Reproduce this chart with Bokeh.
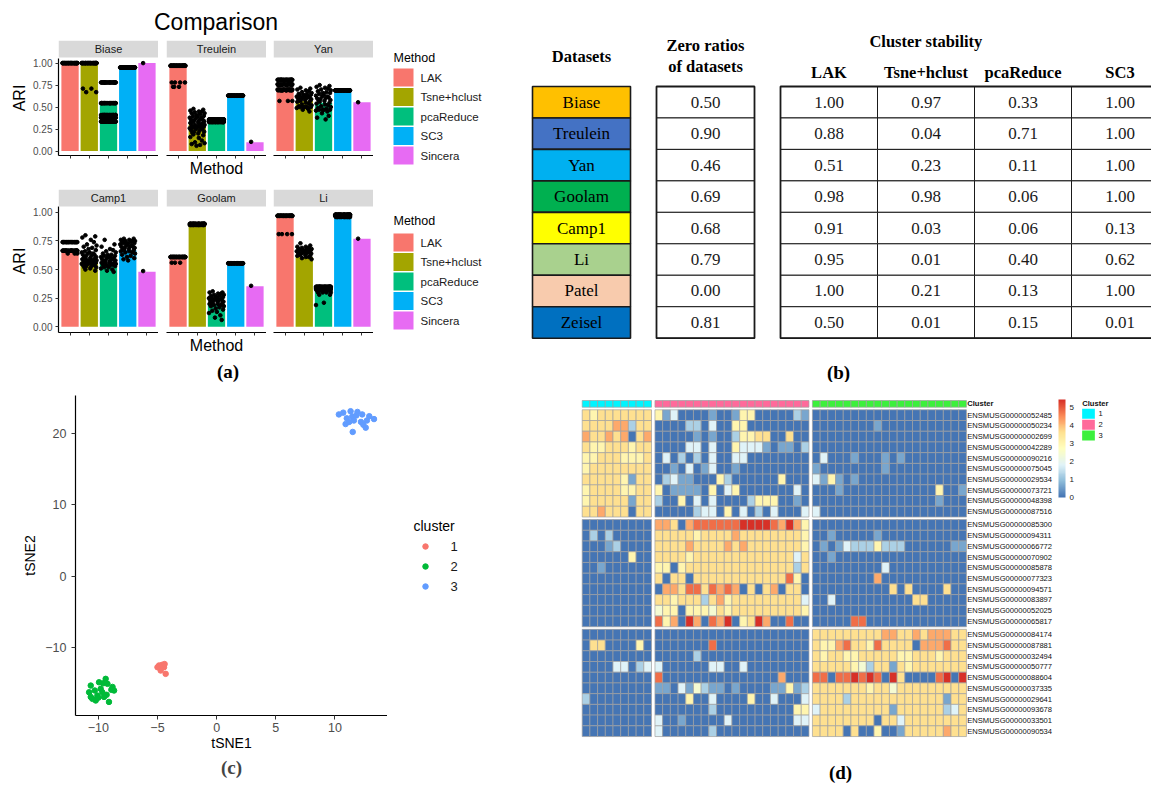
import numpy as np
from bokeh.plotting import figure
from bokeh.models import (ColumnDataSource, Range1d, FixedTicker, NumeralTickFormatter,
                          BoxAnnotation, Label, ColorBar, LinearColorMapper, Div)
from bokeh.embed import file_html
from bokeh.resources import INLINE
from bokeh.core.properties import value

SANS = "Liberation Sans"
SERIF = "Liberation Serif"

# ======================= DATA =======================
# ---- panel (a): ARI comparison
METHODS = ["LAK", "Tsne+hclust", "pcaReduce", "SC3", "Sincera"]
METHOD_COLORS = ["#F8766D", "#A3A500", "#00BF7D", "#00B0F6", "#E76BF3"]
FACETS_TOP = ["Biase", "Treulein", "Yan"]
FACETS_BOTTOM = ["Camp1", "Goolam", "Li"]

ARI_BIASE = [1.00, 1.00, 0.53, 0.95, 1.00]
ARI_TREULEIN = [0.96, 0.30, 0.31, 0.63, 0.10]
ARI_YAN = [0.72, 0.57, 0.55, 0.69, 0.555]
ARI_CAMP1 = [0.66, 0.57, 0.55, 0.67, 0.48]
ARI_GOOLAM = [0.60, 0.89, 0.20, 0.55, 0.355]
ARI_LI = [0.96, 0.61, 0.33, 0.97, 0.77]

TRE_TSNE_RUNS = [0.48, 0.47, 0.46, 0.45, 0.45, 0.44, 0.43, 0.43, 0.42, 0.41, 0.40, 0.40, 0.39,
                 0.38, 0.38, 0.37, 0.36, 0.36, 0.35, 0.35, 0.34, 0.34, 0.33, 0.33, 0.32, 0.32,
                 0.31, 0.31, 0.30, 0.30, 0.29, 0.29, 0.28, 0.28, 0.27, 0.27, 0.26, 0.26, 0.25,
                 0.25, 0.24, 0.23, 0.22, 0.22, 0.21, 0.20, 0.19, 0.18, 0.16, 0.15, 0.12, 0.10,
                 0.09, 0.08, 0.07, 0.06]
YAN_TSNE_RUNS = [0.72, 0.71, 0.70, 0.69, 0.68, 0.67, 0.66, 0.65, 0.65, 0.64, 0.64, 0.63, 0.63,
                 0.62, 0.62, 0.61, 0.61, 0.60, 0.60, 0.59, 0.59, 0.58, 0.58, 0.57, 0.57, 0.56,
                 0.55, 0.54, 0.53, 0.52, 0.51, 0.50, 0.50, 0.50, 0.50, 0.50, 0.49, 0.48, 0.47, 0.45]
YAN_PCA_RUNS = [0.75, 0.74, 0.73, 0.72, 0.71, 0.70, 0.69, 0.68, 0.67, 0.66, 0.66, 0.65, 0.64,
                0.63, 0.62, 0.62, 0.61, 0.60, 0.60, 0.59, 0.58, 0.58, 0.57, 0.56, 0.55, 0.54,
                0.53, 0.52, 0.51, 0.50, 0.49, 0.48, 0.47, 0.47, 0.47, 0.47, 0.46, 0.45, 0.43,
                0.40, 0.38, 0.36]
CAMP_TSNE_RUNS = [0.80, 0.79, 0.78, 0.76, 0.74, 0.72, 0.71, 0.70, 0.69, 0.68, 0.67, 0.66, 0.65,
                  0.65, 0.64, 0.64, 0.63, 0.63, 0.62, 0.62, 0.61, 0.61, 0.60, 0.60, 0.60, 0.59,
                  0.59, 0.58, 0.58, 0.58, 0.57, 0.57, 0.57, 0.56, 0.56, 0.56, 0.55, 0.55, 0.55,
                  0.54, 0.54, 0.53, 0.53, 0.52, 0.52, 0.51, 0.50, 0.49]
CAMP_PCA_RUNS = [0.76, 0.72, 0.70, 0.68, 0.67, 0.66, 0.65, 0.64, 0.63, 0.63, 0.62, 0.62, 0.61,
                 0.61, 0.60, 0.60, 0.59, 0.59, 0.58, 0.58, 0.58, 0.57, 0.57, 0.57, 0.56, 0.56,
                 0.56, 0.55, 0.55, 0.55, 0.54, 0.54, 0.53, 0.53, 0.52, 0.52, 0.51, 0.50, 0.49, 0.48]
CAMP_SC3_RUNS = [0.77, 0.77, 0.76, 0.76, 0.75, 0.75, 0.75, 0.74, 0.74, 0.73, 0.73, 0.73, 0.72,
                 0.72, 0.71, 0.71, 0.70, 0.70, 0.70, 0.69, 0.69, 0.68, 0.68, 0.67, 0.67, 0.66,
                 0.66, 0.65, 0.65, 0.64, 0.63, 0.62, 0.61, 0.60, 0.59, 0.58]
GOO_PCA_RUNS = [0.31, 0.30, 0.30, 0.29, 0.29, 0.28, 0.28, 0.27, 0.27, 0.26, 0.26, 0.25, 0.25,
                0.25, 0.24, 0.24, 0.24, 0.23, 0.23, 0.23, 0.22, 0.22, 0.22, 0.21, 0.21, 0.20,
                0.20, 0.19, 0.19, 0.18, 0.18, 0.17, 0.16, 0.15, 0.14, 0.13, 0.12, 0.10, 0.08, 0.06]
LI_TSNE_RUNS = [0.73, 0.71, 0.70, 0.70, 0.69, 0.69, 0.68, 0.68, 0.68, 0.67, 0.67, 0.67, 0.66,
                0.66, 0.66, 0.65, 0.65, 0.65, 0.64, 0.64, 0.64, 0.63, 0.63, 0.63, 0.62, 0.62,
                0.61, 0.61, 0.60, 0.59]


def single(runs):
    return [(v, 1) for v in runs]


# (ARI value, number of runs) per method
PTS_BIASE = [[(1.00, 40)],
             [(1.00, 40), (0.71, 2), (0.67, 2)],
             [(0.78, 25), (0.545, 25), (0.41, 20), (0.38, 20), (0.335, 25)],
             [(0.95, 40)],
             [(1.00, 1)]]
PTS_TREULEIN = [[(0.97, 40), (0.78, 4), (0.73, 3)],
                single(TRE_TSNE_RUNS),
                [(0.36, 30), (0.34, 25), (0.33, 25)],
                [(0.63, 40)],
                [(0.105, 1)]]
PTS_YAN = [[(0.81, 25), (0.76, 15), (0.75, 10), (0.70, 15), (0.69, 10), (0.57, 3)],
           single(YAN_TSNE_RUNS),
           single(YAN_PCA_RUNS),
           [(0.69, 40)],
           [(0.555, 1)]]
PTS_CAMP1 = [[(0.74, 20), (0.665, 30), (0.64, 3)],
             single(CAMP_TSNE_RUNS),
             single(CAMP_PCA_RUNS),
             single(CAMP_SC3_RUNS),
             [(0.487, 1)]]
PTS_GOOLAM = [[(0.61, 40), (0.56, 3)],
              [(0.90, 30), (0.89, 20)],
              single(GOO_PCA_RUNS),
              [(0.555, 40)],
              [(0.358, 1)]]
PTS_LI = [[(0.97, 40), (0.81, 4)],
          single(LI_TSNE_RUNS),
          [(0.35, 25), (0.34, 25), (0.33, 15), (0.32, 10), (0.30, 4), (0.28, 2), (0.21, 1), (0.19, 1)],
          [(0.98, 30), (0.97, 30), (0.96, 20)],
          [(0.77, 1)]]

# ---- panel (b): table
TABLE_DATASETS = ["Biase", "Treulein", "Yan", "Goolam", "Camp1", "Li", "Patel", "Zeisel"]
TABLE_COLORS = ["#FFC000", "#4472C4", "#00B0F0", "#00B050", "#FFFF00", "#A9D18E", "#F8CBAD", "#0070C0"]
ZERO_RATIOS = [0.50, 0.90, 0.46, 0.69, 0.68, 0.79, 0.00, 0.81]
STAB_METHODS = ["LAK", "Tsne+hclust", "pcaReduce", "SC3"]
STAB_LAK = [1.00, 0.88, 0.51, 0.98, 0.91, 0.95, 1.00, 0.50]
STAB_TSNE = [0.97, 0.04, 0.23, 0.98, 0.03, 0.01, 0.21, 0.01]
STAB_PCA = [0.33, 0.71, 0.11, 0.06, 0.06, 0.40, 0.13, 0.15]
STAB_SC3 = [1.00, 1.00, 1.00, 1.00, 0.13, 0.62, 1.00, 0.01]

# ---- panel (c): tSNE
C1_X = [-4.87, -4.45, -4.31, -4.73, -5.00, -4.60, -4.40]
C1_Y = [-12.50, -12.74, -13.67, -13.20, -12.74, -12.40, -12.30]
C2_X = [-10.64, -10.78, -10.50, -10.08, -9.80, -9.38, -9.23, -8.80, -8.67, -9.10, -9.52, -9.94,
        -10.22, -9.66, -10.64, -9.30, -8.90, -10.30, -9.60, -10.00]
C2_Y = [-15.31, -16.25, -17.17, -16.70, -15.77, -14.37, -15.07, -15.50, -16.00, -17.60, -16.90,
        -14.85, -17.40, -16.25, -16.90, -16.60, -15.90, -16.00, -15.00, -17.00]
C3_X = [10.33, 11.32, 11.46, 12.30, 10.90, 11.60, 12.70, 13.30, 12.60, 11.50, 11.00, 11.80,
        12.20, 11.20, 12.90, 10.70, 11.90, 12.40]
C3_Y = [22.65, 23.10, 22.37, 22.65, 21.30, 21.80, 21.80, 22.00, 20.80, 20.20, 22.10, 22.50,
        21.60, 21.60, 22.40, 22.90, 23.00, 21.20]
TSNE_CLUSTERS = ["1", "2", "3"]
TSNE_CLUSTER_COLORS = ["#F8766D", "#00BA38", "#619CFF"]

# ---- panel (d): heatmap (digit d -> expression d*0.6); columns: cluster1 | cluster2 | cluster3
CLUSTER_SIZES = [9, 20, 20]
CLUSTER_COLORS = ["#00F5FF", "#FF6A9B", "#3CF03C"]
GENES = ["ENSMUSG00000052485", "ENSMUSG00000050234", "ENSMUSG00000002699", "ENSMUSG00000042289",
         "ENSMUSG00000090216", "ENSMUSG00000075045", "ENSMUSG00000029534", "ENSMUSG00000073721",
         "ENSMUSG00000048398", "ENSMUSG00000087516",
         "ENSMUSG00000085300", "ENSMUSG00000094311", "ENSMUSG00000066772", "ENSMUSG00000070902",
         "ENSMUSG00000085878", "ENSMUSG00000077323", "ENSMUSG00000094571", "ENSMUSG00000083897",
         "ENSMUSG00000052025", "ENSMUSG00000065817",
         "ENSMUSG00000084174", "ENSMUSG00000087881", "ENSMUSG00000032494", "ENSMUSG00000050777",
         "ENSMUSG00000088604", "ENSMUSG00000037335", "ENSMUSG00000029641", "ENSMUSG00000093678",
         "ENSMUSG00000033501", "ENSMUSG00000090534"]
HM_ROWS = [
    "656666666 51300001001550000021 00000000000000000000",
    "666677266 00002203005500000000 00000000100000000000",
    "766767067 00000101002556600600 00000000000000000000",
    "655666566 00003303005333101102 00000000000000000000",
    "556665556 03020203003300000000 03000100010100000000",
    "566666666 00103013001000000000 10000000010000000000",
    "666665166 02311000520000005000 31510100000000000000",
    "566665566 50111105035000000030 00010000000000005001",
    "566666166 20050303000025550010 00000000000000001000",
    "667666066 00000233050302030003 30000000000000000000",
    "000000000 77607888888999987975 00000000000000000000",
    "020200000 66666566667666666665 00100000100000000000",
    "000120000 66667666676766666665 01013222522200000011",
    "000000500 66665666666666666636 00100000000000000000",
    "001000000 55056666666666666626 00000000030000000000",
    "000000000 60660666666666666850 00000000700000000000",
    "000000000 07768868787060670660 00000000006060000600",
    "000000000 66566626756666666663 00300000000006600000",
    "000000000 45505554656666666665 00000000000000000000",
    "000000000 85709708790569700800 00000880000000000000",
    "000000000 00000000000000000000 66666666677667677766",
    "066000050 00000008000000000000 65578665866660777866",
    "000000000 00000200000000000000 65665566666556665666",
    "000033023 30000003300300000000 66666542661656666666",
    "000000000 80000000000000007000 88088989809600008909",
    "000000000 11031421101000011512 66666665664666666666",
    "200000000 00005003000050030003 66662666666666666166",
    "000000000 00000002000000000055 36666666661666666236",
    "000000000 30010000030000000033 66666666066366666666",
    "000000000 30000002000000000000 66660600500166666766",
]
HM_UNIT = 0.6
HM_MAX = 5.44
HM_ANCHORS = ["#4575B4", "#91BFDB", "#E0F3F8", "#FFFFBF", "#FEE090", "#FC8D59", "#D73027"]

# ======================= HELPERS =======================
JITTER = [-0.20, 0.31, -0.36, 0.08, 0.24, -0.12, 0.38, -0.29, 0.15, -0.04, 0.34, -0.22,
          0.02, -0.39, 0.20, -0.08, 0.27, -0.33, 0.11, -0.16, 0.36, -0.26, 0.05]


def pts_xy(groups):
    xs, ys = [], []
    for m, grp in enumerate(groups):
        k = 0
        for v, n in grp:
            for _ in range(n):
                xs.append(m + 1 + JITTER[k % len(JITTER)])
                ys.append(v)
                k += 1
    return xs, ys


def base_fig(**kw):
    kw.setdefault("title", None)
    p = figure(output_backend="svg", toolbar_location=None, **kw)
    p.outline_line_color = None
    p.grid.visible = False
    p.background_fill_color = "white"
    p.border_fill_color = "white"
    return p


def style_axis(ax, label_size="10px"):
    ax.axis_line_color = "black"
    ax.axis_line_width = 1.2
    ax.major_tick_line_color = "#333333"
    ax.major_tick_out = 3
    ax.major_tick_in = 0
    ax.minor_tick_out = 0
    ax.minor_tick_in = 0
    ax.major_label_text_color = "#4D4D4D"
    ax.major_label_text_font = SANS
    ax.major_label_text_font_size = label_size
    ax.axis_label_text_font = SANS
    ax.axis_label_text_font_style = "normal"
    ax.axis_label_text_color = "black"


def blank_fig(w, h):
    """A figure without axes whose units are the pixels of its own canvas."""
    return base_fig(width=w, height=h, x_range=Range1d(0, w), y_range=Range1d(h, 0),
                    x_axis_location=None, y_axis_location=None, min_border=0)


PLACED = []   # (model, left px, top px)

# ======================= PANEL (a) =======================
FACET_W = 100
STRIP_H = 17
FACET_LEFT = [8, 166, 273]


def facet(name, bars, pts, cfg, pos, xlabel=None):
    first = pos == 0
    left = 50 if first else 0
    ppu = cfg["ppu"]
    y_top = -0.05 + cfg["frame"] / ppu
    strip_bottom = y_top - STRIP_H / ppu
    p = base_fig(width=left + FACET_W, height=cfg["top"] + cfg["frame"] + cfg["bottom"],
                 x_range=Range1d(0.4, 5.6), y_range=Range1d(-0.05, y_top),
                 y_axis_location="left" if first else None,
                 min_border_left=left, min_border_right=0,
                 min_border_top=cfg["top"], min_border_bottom=cfg["bottom"])
    p.add_layout(BoxAnnotation(bottom=strip_bottom, fill_color="#D9D9D9", fill_alpha=1.0,
                               line_color=None))
    p.add_layout(Label(x=3, y=(strip_bottom + y_top) / 2, text=name, text_align="center",
                       text_baseline="middle", text_font=SANS, text_font_size="11px",
                       text_color="#1A1A1A"))
    src = ColumnDataSource(dict(x=[1, 2, 3, 4, 5], top=bars, color=METHOD_COLORS))
    p.vbar(x="x", top="top", bottom=0, width=0.9, fill_color="color", line_color=None, source=src)
    xs, ys = pts_xy(pts)
    p.scatter(x=xs, y=ys, size=3.6, color="black", marker="circle")
    style_axis(p.xaxis[0])
    p.xaxis.ticker = FixedTicker(ticks=[1, 2, 3, 4, 5])
    p.xaxis.major_label_text_font_size = "1px"
    p.xaxis.major_label_text_color = None
    p.xaxis.major_label_standoff = 0
    if xlabel:
        p.xaxis.axis_label = xlabel
        p.xaxis.axis_label_text_font_size = "16px"
        p.xaxis.axis_label_standoff = 1
    if first:
        style_axis(p.yaxis[0])
        p.yaxis.ticker = FixedTicker(ticks=[0, 0.25, 0.5, 0.75, 1.0])
        p.yaxis.formatter = NumeralTickFormatter(format="0.00")
        p.yaxis.bounds = (-0.05, 1.05)
        p.yaxis.major_label_standoff = 3
        p.yaxis.axis_label = "ARI"
        p.yaxis.axis_label_text_font_size = "16px"
        p.yaxis.axis_label_standoff = 2
    return p


def method_legend(h, title_y, key_y):
    lf = blank_fig(147, h)
    ys = [key_y + i * 19.5 for i in range(len(METHODS))]
    lf.rect(x=[30] * len(METHODS), y=ys, width=20, height=18, fill_color=METHOD_COLORS,
            line_color=None)
    lf.text(x=[47] * len(METHODS), y=ys, text=METHODS, text_font=value(SANS),
            text_font_size="11.5px", text_baseline="middle", text_color="#1A1A1A")
    lf.text(x=[20], y=[title_y], text=["Method"], text_font=value(SANS),
            text_font_size="12.5px", text_baseline="middle", text_color="black")
    return lf


ROWS_A = [
    dict(names=FACETS_TOP, bars=[ARI_BIASE, ARI_TREULEIN, ARI_YAN],
         pts=[PTS_BIASE, PTS_TREULEIN, PTS_YAN], y0=8, top=32, frame=115, bottom=26, ppu=88.0,
         title_y=49, key_y=69),
    dict(names=FACETS_BOTTOM, bars=[ARI_CAMP1, ARI_GOOLAM, ARI_LI],
         pts=[PTS_CAMP1, PTS_GOOLAM, PTS_LI], y0=181, top=8, frame=143, bottom=30, ppu=114.4,
         title_y=39, key_y=61),
]

for cfg in ROWS_A:
    for pos in range(3):
        f = facet(cfg["names"][pos], cfg["bars"][pos], cfg["pts"][pos], cfg, pos,
                  xlabel="Method" if pos == 1 else None)
        PLACED.append((f, FACET_LEFT[pos], cfg["y0"]))
    h = cfg["top"] + cfg["frame"] + cfg["bottom"]
    PLACED.append((method_legend(h, cfg["title_y"], cfg["key_y"]), 373, cfg["y0"]))

title_a = Div(text="Comparison", width=140, height=28, margin=(0, 0, 0, 0),
              styles={"font-family": SANS, "font-size": "23px", "text-align": "center",
                      "line-height": "28px", "color": "black"})
PLACED.append((title_a, 146, 8))
lab_style = {"font-family": SERIF, "font-size": "19px", "font-weight": "bold",
             "text-align": "center", "line-height": "20px", "color": "black"}
div_a = Div(text="(a)", width=100, height=20, styles=lab_style, margin=(0, 0, 0, 0))
PLACED.append((div_a, 178, 362))

# ======================= PANEL (b) =======================
TB_X0, TB_Y0, TB_W, TB_H = 520, 8, 631, 374
COL_LEFT = [532, 656, 780, 877, 974, 1071]
COL_RIGHT = [630, 754, 877, 974, 1071, 1168]
ROW_TOP, ROW_H = 86.0, 31.46

tb = base_fig(width=TB_W, height=TB_H, x_range=Range1d(TB_X0, TB_X0 + TB_W),
              y_range=Range1d(TB_Y0 + TB_H, TB_Y0), x_axis_location=None, y_axis_location=None,
              min_border=0)
n_rows = len(TABLE_DATASETS)
tops = [ROW_TOP + i * ROW_H for i in range(n_rows)]
bots = [t + ROW_H for t in tops]
mids = [t + ROW_H / 2 for t in tops]
cols_vals = [ZERO_RATIOS, STAB_LAK, STAB_TSNE, STAB_PCA, STAB_SC3]

tb.quad(left=[COL_LEFT[0]] * n_rows, right=[COL_RIGHT[0]] * n_rows, top=tops, bottom=bots,
        fill_color=TABLE_COLORS, line_color="#1A1A1A", line_width=1.6)
tb.text(x=[(COL_LEFT[0] + COL_RIGHT[0]) / 2] * n_rows, y=mids, text=TABLE_DATASETS,
        text_font=value(SERIF), text_font_size="17px", text_align="center",
        text_baseline="middle", text_color="black")
for ci, vals in enumerate(cols_vals):
    c = ci + 1
    tb.quad(left=[COL_LEFT[c]] * n_rows, right=[COL_RIGHT[c]] * n_rows, top=tops, bottom=bots,
            fill_color="white", line_color="#1A1A1A", line_width=1.0)
    tb.text(x=[(COL_LEFT[c] + COL_RIGHT[c]) / 2] * n_rows, y=mids,
            text=["%.2f" % v for v in vals], text_font=value(SERIF), text_font_size="17px",
            text_align="center", text_baseline="middle", text_color="#1A1A1A")
tb.quad(left=[COL_LEFT[1], COL_LEFT[2]], right=[COL_RIGHT[1], COL_RIGHT[5]],
        top=[tops[0]] * 2, bottom=[bots[-1]] * 2, fill_color=None, line_color="#1A1A1A",
        line_width=1.8)
hdr_font = dict(text_font=value(SERIF), text_font_size="16.5px", text_font_style="bold",
                text_align="center", text_baseline="middle", text_color="black")
tb.text(x=[(COL_LEFT[0] + COL_RIGHT[0]) / 2], y=[56], text=["Datasets"], **hdr_font)
tb.text(x=[(COL_LEFT[1] + COL_RIGHT[1]) / 2] * 2, y=[45, 66], text=["Zero ratios", "of datasets"],
        **hdr_font)
tb.text(x=[(COL_LEFT[3] + COL_RIGHT[3]) / 2], y=[41], text=["Cluster stability"], **hdr_font)
tb.text(x=[(COL_LEFT[c] + COL_RIGHT[c]) / 2 for c in range(2, 6)], y=[72] * 4, text=STAB_METHODS,
        **hdr_font)
tb.text(x=[838], y=[372], text=["(b)"], text_font=value(SERIF), text_font_size="19px",
        text_font_style="bold", text_align="center", text_baseline="middle", text_color="black")
PLACED.append((tb, TB_X0, TB_Y0))

# ======================= PANEL (c) =======================
fc = base_fig(width=379, height=399, x_range=Range1d(-11.93, 14.44), y_range=Range1d(-19.5, 25.3),
              min_border_left=67, min_border_right=0, min_border_top=13, min_border_bottom=66,
              title="(c)", title_location="below")
fc.title.align = "center"
fc.title.text_font = SERIF
fc.title.text_font_size = "19px"
fc.title.text_font_style = "bold"
fc.title.standoff = 2
for xs, ys, col in [(C1_X, C1_Y, TSNE_CLUSTER_COLORS[0]), (C2_X, C2_Y, TSNE_CLUSTER_COLORS[1]),
                    (C3_X, C3_Y, TSNE_CLUSTER_COLORS[2])]:
    fc.scatter(x=xs, y=ys, size=5.5, color=col, marker="circle")
for ax in [fc.xaxis[0], fc.yaxis[0]]:
    style_axis(ax, "12.5px")
    ax.major_tick_out = 4
    ax.axis_label_text_font_size = "14px"
fc.xaxis.ticker = FixedTicker(ticks=[-10, -5, 0, 5, 10])
fc.yaxis.ticker = FixedTicker(ticks=[-10, 0, 10, 20])
fc.xaxis.axis_label = "tSNE1"
fc.yaxis.axis_label = "tSNE2"
fc.xaxis.major_label_standoff = 3
fc.xaxis.axis_label_standoff = 0
fc.yaxis.major_label_standoff = 5
fc.yaxis.axis_label_standoff = 4
PLACED.append((fc, 8, 382))

lc = blank_fig(120, 110)
lc.text(x=[26], y=[25], text=["cluster"], text_font=value(SANS), text_font_size="14px",
        text_baseline="middle", text_color="black")
lc_ys = [46 + 20 * i for i in range(3)]
lc.scatter(x=[38] * 3, y=lc_ys, size=5.5, color=TSNE_CLUSTER_COLORS, marker="circle")
lc.text(x=[63] * 3, y=lc_ys, text=TSNE_CLUSTERS, text_font=value(SANS), text_font_size="13px",
        text_baseline="middle", text_color="#1A1A1A")
PLACED.append((lc, 387, 500))

# ======================= PANEL (d) =======================
FD_X0, FD_Y0, FD_W, FD_H = 560, 382, 591, 405
CW, RH = 7.7, 10.72
HM_X0, HM_Y0 = 581.7, 409.3
GAPC, GAPR = 0.45, 0.24


def hx(px):
    return (px - HM_X0) / CW


def hy(py):
    return (py - HM_Y0) / RH


fd = base_fig(width=FD_W, height=FD_H, x_range=Range1d(hx(FD_X0), hx(FD_X0 + FD_W)),
              y_range=Range1d(hy(FD_Y0 + FD_H), hy(FD_Y0)), x_axis_location=None,
              y_axis_location=None, min_border=0)

col_x, col_cluster = [], []
for k, n in enumerate(CLUSTER_SIZES):
    start = sum(CLUSTER_SIZES[:k])
    for j in range(n):
        col_x.append(start + j + 0.5 + k * GAPC)
        col_cluster.append(k)
row_y = [r + 0.5 + (r // 10) * GAPR for r in range(len(GENES))]

cx, cy, cv = [], [], []
for r, s in enumerate(HM_ROWS):
    digits = s.replace(" ", "")
    for c, ch in enumerate(digits):
        cx.append(col_x[c])
        cy.append(row_y[r])
        cv.append(int(ch) * HM_UNIT)


def interp_palette(anchors, n):
    rgb = np.array([[int(a[i:i + 2], 16) for i in (1, 3, 5)] for a in anchors], dtype=float)
    pos = np.linspace(0, 1, len(anchors))
    out = []
    for t in np.linspace(0, 1, n):
        c = [np.interp(t, pos, rgb[:, i]) for i in range(3)]
        out.append("#%02x%02x%02x" % tuple(int(round(v)) for v in c))
    return out


palette = interp_palette(HM_ANCHORS, 100)
mapper = LinearColorMapper(palette=palette, low=0, high=HM_MAX)
hsrc = ColumnDataSource(dict(x=cx, y=cy, v=cv))
fd.rect(x="x", y="y", width=1, height=1, source=hsrc,
        fill_color={"field": "v", "transform": mapper}, line_color="#A0A0A0", line_width=0.7)

ann_y = hy(403.35)
ann_h = 6.7 / RH
fd.rect(x=col_x, y=[ann_y] * len(col_x), width=1, height=ann_h,
        fill_color=[CLUSTER_COLORS[k] for k in col_cluster], line_color="#A0A0A0", line_width=0.7)

lab_x = hx(966.7)
fd.text(x=[lab_x] * len(GENES), y=row_y, text=GENES, text_font=value(SANS),
        text_font_size="7.6px", text_baseline="middle", text_color="#111111")
fd.text(x=[lab_x], y=[ann_y], text=["Cluster"], text_font=value(SANS), text_font_size="7.6px",
        text_font_style="bold", text_baseline="middle", text_color="#111111")

# colour bar: bar spans page x 1058..1065, y 399..497 (location measured from the canvas bottom-left)
cb = ColorBar(color_mapper=mapper, location=(1058 - FD_X0, FD_Y0 + FD_H - 497), width=7,
              height=98, padding=0, margin=0, ticker=FixedTicker(ticks=[0, 1, 2, 3, 4, 5]),
              label_standoff=4, major_label_text_font_size="8px", major_label_text_font=SANS,
              major_label_text_color="#222222", major_tick_line_color=None,
              bar_line_color=None, border_line_color=None, background_fill_alpha=0)
fd.add_layout(cb)

leg_x = hx(1088.0)
leg_ys = [hy(413.3 + i * 10.85) for i in range(3)]
fd.text(x=[hx(1081.7)], y=[hy(403.3)], text=["Cluster"], text_font=value(SANS),
        text_font_size="7.6px", text_font_style="bold", text_baseline="middle",
        text_color="#111111")
fd.rect(x=[leg_x] * 3, y=leg_ys, width=12.7 / CW, height=10 / RH, fill_color=CLUSTER_COLORS,
        line_color=None)
fd.text(x=[hx(1098)] * 3, y=leg_ys, text=["1", "2", "3"], text_font=value(SANS),
        text_font_size="7.6px", text_baseline="middle", text_color="#111111")
fd.text(x=[hx(840)], y=[hy(772)], text=["(d)"], text_font=value(SERIF), text_font_size="19px",
        text_font_style="bold", text_align="center", text_baseline="middle", text_color="black")
PLACED.append((fd, FD_X0, FD_Y0))

# ======================= PAGE (absolute placement of each panel) =======================
models = []
parts = []
for i, (m, x, y) in enumerate(PLACED):
    m.name = "root%d" % i
    models.append(m)
    parts.append('<div style="position:absolute;left:%dpx;top:%dpx;">{{ embed(roots["root%d"]) }}</div>'
                 % (x, y, i))
TEMPLATE = ("{% block contents %}\n{% from macros import embed with context %}\n"
            + "\n".join(parts) + "\n{% endblock %}")

with open("out.html", "w") as f:
    f.write(file_html(models, INLINE, "plot", template=TEMPLATE))
